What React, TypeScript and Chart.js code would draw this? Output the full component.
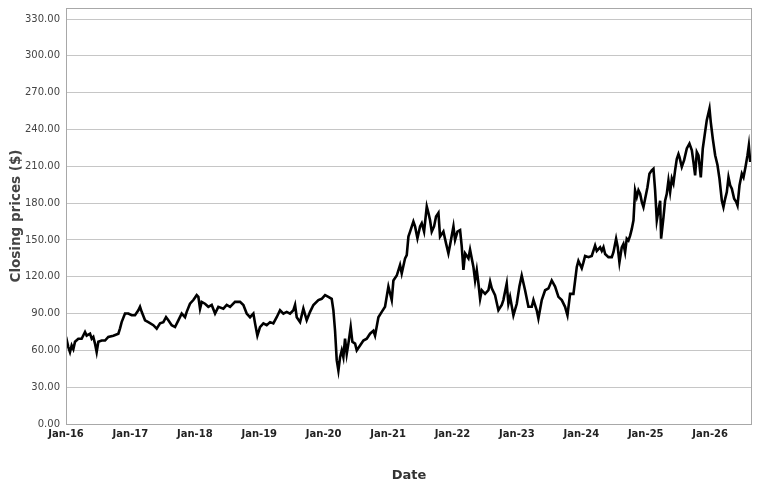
import React, { useEffect, useRef } from "react";
import { Chart, registerables } from "chart.js";

Chart.register(...registerables);

// Trading dates as decimal years
const dates: number[] = [
  2016.000, 2016.036, 2016.062, 2016.088, 2016.114, 2016.140, 2016.191, 2016.243, 2016.295, 2016.321,
  2016.373, 2016.399, 2016.424, 2016.450, 2016.476, 2016.502, 2016.554, 2016.606, 2016.657, 2016.735,
  2016.813, 2016.839, 2016.864, 2016.916, 2016.968,
  2017.020, 2017.071, 2017.123, 2017.149, 2017.175, 2017.227, 2017.278, 2017.356, 2017.408, 2017.460,
  2017.511, 2017.553, 2017.589, 2017.641, 2017.693, 2017.744, 2017.796, 2017.848, 2017.874, 2017.925,
  2017.977,
  2018.029, 2018.055, 2018.081, 2018.107, 2018.158, 2018.210, 2018.262, 2018.314, 2018.365, 2018.443,
  2018.495, 2018.547, 2018.624, 2018.702, 2018.754, 2018.805, 2018.857, 2018.909, 2018.935, 2018.971,
  2019.012, 2019.064, 2019.116, 2019.168, 2019.219, 2019.271, 2019.323, 2019.375, 2019.426, 2019.478,
  2019.530, 2019.556, 2019.582, 2019.634, 2019.685, 2019.737, 2019.789, 2019.841, 2019.918, 2019.970,
  2020.022, 2020.073, 2020.125, 2020.151, 2020.177, 2020.203, 2020.229, 2020.255, 2020.281, 2020.306,
  2020.332, 2020.358, 2020.384, 2020.420, 2020.446, 2020.488, 2020.514, 2020.565, 2020.617, 2020.669,
  2020.720, 2020.772, 2020.798, 2020.850, 2020.902, 2020.953,
  2021.005, 2021.057, 2021.083, 2021.135, 2021.186, 2021.212, 2021.264, 2021.290, 2021.316, 2021.342,
  2021.393, 2021.419, 2021.456, 2021.497, 2021.523, 2021.559, 2021.601, 2021.627, 2021.652, 2021.678,
  2021.714, 2021.745, 2021.782, 2021.807, 2021.859, 2021.901, 2021.937, 2021.963,
  2022.015, 2022.040, 2022.077, 2022.118, 2022.144, 2022.170, 2022.196, 2022.248, 2022.273, 2022.325,
  2022.351, 2022.377, 2022.403, 2022.429, 2022.455, 2022.506, 2022.558, 2022.584, 2022.610, 2022.661,
  2022.713, 2022.765, 2022.790, 2022.842, 2022.868, 2022.894, 2022.946, 2022.998,
  2023.039, 2023.075, 2023.127, 2023.179, 2023.231, 2023.257, 2023.308, 2023.334, 2023.386, 2023.438,
  2023.490, 2023.541, 2023.593, 2023.645, 2023.697, 2023.748, 2023.785, 2023.826, 2023.878, 2023.930,
  2023.955, 2023.981,
  2024.007, 2024.033, 2024.059, 2024.111, 2024.162, 2024.214, 2024.240, 2024.292, 2024.318, 2024.344,
  2024.370, 2024.421, 2024.473, 2024.499, 2024.540, 2024.566, 2024.592, 2024.628, 2024.654, 2024.680,
  2024.706, 2024.732, 2024.758, 2024.784, 2024.810, 2024.835, 2024.861, 2024.887, 2024.913, 2024.939,
  2024.965, 2024.991,
  2025.027, 2025.058, 2025.094, 2025.120, 2025.146, 2025.172, 2025.198, 2025.224, 2025.239, 2025.276,
  2025.301, 2025.327, 2025.353, 2025.379, 2025.405, 2025.430, 2025.456, 2025.482, 2025.508, 2025.523,
  2025.560, 2025.596, 2025.638, 2025.679, 2025.716, 2025.741, 2025.767, 2025.793, 2025.819, 2025.855,
  2025.886, 2025.922, 2025.948, 2025.990,
  2026.010, 2026.041, 2026.078, 2026.114, 2026.145, 2026.182, 2026.207, 2026.233, 2026.259, 2026.285,
  2026.311, 2026.337, 2026.373, 2026.404, 2026.425, 2026.456, 2026.492, 2026.518, 2026.549, 2026.580,
  2026.601, 2026.622,
];

// Closing prices ($)
const closingPrices: number[] = [
  71, 62.7, 58.6, 64, 61, 67, 69.5, 69.5, 75, 72,
  73.6, 69.5, 71, 65.5, 58.6, 67, 68, 68, 71, 72,
  73.6, 78, 83, 90, 90,
  88.6, 88.6, 92.7, 95.5, 91.4, 84.5, 83, 80.5, 77.7, 82,
  83, 87, 84.5, 80.5, 79, 84.5, 90, 87, 91.4, 98,
  101,
  105, 103.6, 94, 99.5, 98, 95.5, 97, 90, 95.5, 94,
  97, 95.5, 99.5, 99.5, 97, 90, 87, 90, 82, 72,
  79, 82, 80.5, 83, 82, 87, 92.7, 90, 91.4, 90,
  92.7, 97, 87, 83, 94, 84.5, 91.4, 97, 101, 102,
  105, 103.6, 102, 92.7, 76, 52, 43.6, 54.5, 60, 54.5,
  69.5, 57, 65.5, 79, 67, 65.5, 60, 64, 68, 69.5,
  73.6, 76, 72, 87, 91.4, 95.5,
  112, 101, 117, 121, 129.5, 122.7, 135, 137.7, 152.7, 156.8,
  165, 161, 151.4, 161, 163.6, 156.8, 177.3, 172, 166, 156.8,
  161, 169, 172, 152.7, 156.8, 147, 139, 146,
  161, 150, 156.8, 158, 144.5, 125.5, 139, 135, 142, 128,
  117, 125.5, 114.5, 102, 109, 106, 109, 116, 110.5, 105,
  92.7, 97, 101, 114.5, 98, 103.6, 88.6, 98,
  112, 121, 109, 95.5, 95.5, 101, 92.7, 86, 101, 109,
  110.5, 117, 112, 103.6, 101, 95.5, 88.6, 106, 106, 128,
  133, 130,
  127, 131.7, 137, 136, 137, 145.4, 141, 144, 141, 144,
  138.5, 136, 136, 140, 151, 144, 131.7, 144, 146.7, 140,
  151, 149.5, 153.5, 159, 166, 190.4, 185, 190.4, 187.6, 181,
  176.7, 183.5,
  193, 204, 206.7, 208, 190.4, 166, 174, 182, 151, 168.5,
  182, 187.6, 198.5, 189, 200, 196, 206.7, 216, 220, 217.6,
  209.5, 215, 224.5, 228.5, 223, 213.5, 202.6, 221.7, 219, 201,
  224.5, 238, 247.6, 257,
  246, 232.6, 219, 211, 200, 182, 176.7, 183.5, 189, 201,
  194.5, 191.7, 183.5, 181, 178, 194.5, 204, 201, 209.5, 219,
  227, 213.5,
];

const xRange = [2016.0, 2026.65];
const yRange = [0, 339];
const yStep = 30;
const monthLabel = "Jan";
const xTitle = "Date";
const yTitle = "Closing prices ($)";

const FONT = "'DejaVu Sans', sans-serif";

export default function App() {
  const ref = useRef<HTMLCanvasElement | null>(null);

  useEffect(() => {
    if (!ref.current) return;
    const borderPlugin = {
      id: "plotBorder",
      afterDraw(chart: any) {
        const { ctx, chartArea } = chart;
        ctx.save();
        ctx.strokeStyle = "#a8a8a8";
        ctx.lineWidth = 1;
        ctx.strokeRect(
          Math.round(chartArea.left) + 0.5,
          Math.round(chartArea.top) + 0.5,
          Math.round(chartArea.right - chartArea.left) - 1,
          Math.round(chartArea.bottom - chartArea.top)
        );
        ctx.restore();
      },
    };

    const chart = new Chart(ref.current, {
      type: "line",
      data: {
        datasets: [
          {
            label: yTitle,
            data: dates.map((d, i) => ({ x: d, y: closingPrices[i] })),
            borderColor: "#000000",
            backgroundColor: "#000000",
            borderWidth: 2.6,
            pointRadius: 0,
            tension: 0,
            fill: false,
          },
        ],
      },
      options: {
        animation: false,
        responsive: true,
        maintainAspectRatio: false,
        layout: { padding: { top: 8, right: 17, left: 0, bottom: 0 } },
        plugins: {
          legend: { display: false },
          tooltip: { enabled: false },
        },
        scales: {
          x: {
            type: "linear",
            min: xRange[0],
            max: xRange[1],
            grid: { display: false, drawTicks: false },
            border: { display: false },
            ticks: {
              stepSize: 1,
              includeBounds: false,
              autoSkip: false,
              maxRotation: 0,
              padding: 4,
              color: "#222222",
              font: { family: FONT, size: 10, weight: "bold" },
              callback: (v: any) => {
                const n = Math.round(Number(v));
                if (Math.abs(Number(v) - n) > 1e-6) return "";
                return `${monthLabel}-${String(n).slice(2)}`;
              },
            },
            title: {
              display: true,
              text: xTitle,
              color: "#333333",
              font: { family: FONT, size: 13, weight: "bold" },
              padding: { top: 0, bottom: 6 },
            },
            afterFit: (scale: any) => {
              scale.height = 65;
              scale.paddingLeft = 0;
              scale.paddingRight = 0;
            },
          },
          y: {
            type: "linear",
            min: yRange[0],
            max: yRange[1],
            grid: { color: "#c6c6c6", lineWidth: 1, drawTicks: false },
            border: { display: false },
            ticks: {
              stepSize: yStep,
              includeBounds: false,
              padding: 6,
              color: "#444444",
              font: { family: FONT, size: 10 },
              callback: (v: any) => Number(v).toFixed(2),
            },
            title: {
              display: true,
              text: yTitle,
              color: "#444444",
              font: { family: FONT, size: 13.5, weight: "bold" },
              padding: { top: 8, bottom: 0 },
            },
            afterFit: (scale: any) => {
              scale.width = 66;
              scale.paddingTop = 0;
              scale.paddingBottom = 0;
            },
          },
        },
      },
      plugins: [borderPlugin],
    });
    return () => chart.destroy();
  }, []);

  return (
    <div style={{ position: "fixed", left: 0, top: 0, width: 769, height: 489, background: "#ffffff" }}>
      <canvas ref={ref} />
    </div>
  );
}
